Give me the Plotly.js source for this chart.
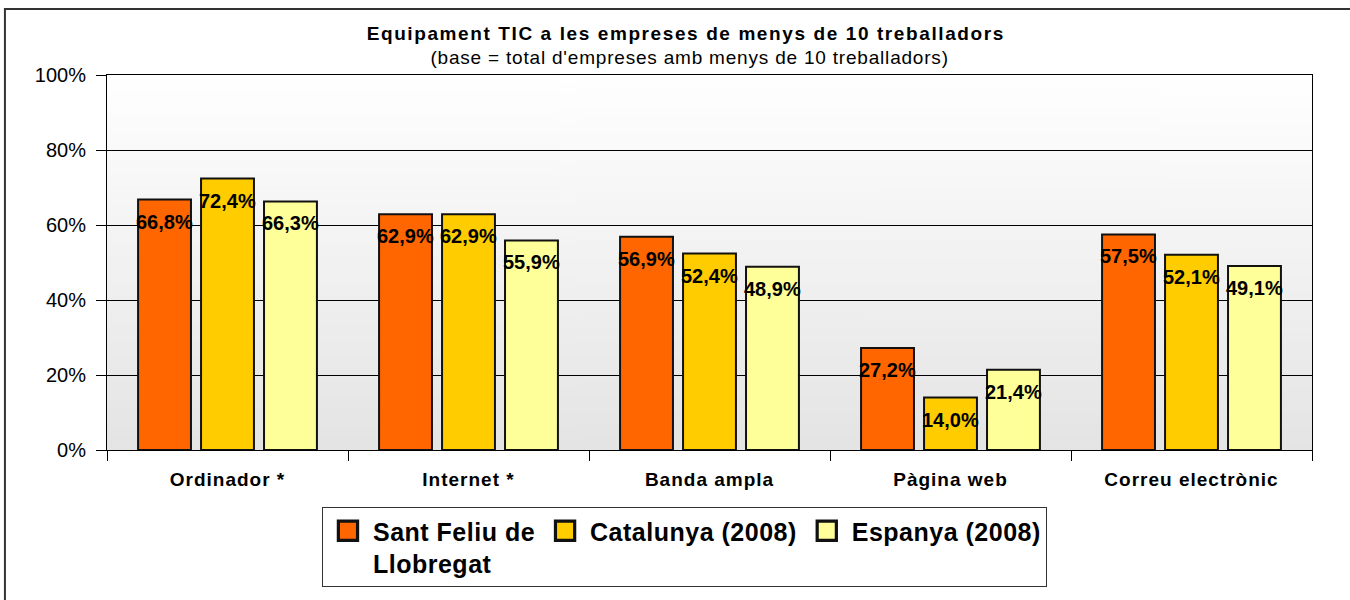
<!DOCTYPE html>
<html>
<head>
<meta charset="utf-8">
<script src="https://cdn.plot.ly/plotly-3.0.1.min.js"></script>
<style>
  html, body { margin: 0; padding: 0; background: #fff; }
  #chart { width: 1350px; height: 600px; }
  .xtick text { letter-spacing: 1px; }
  .gtitle { letter-spacing: 1.6px; }
  .annotation[data-index="15"] text { letter-spacing: 0.8px; }
  .legendtext { letter-spacing: 0.5px; }
  .legendpoints { transform-box: fill-box; transform-origin: center; transform: scale(1.6); }
</style>
</head>
<body>
<div id="chart"></div>
<script>
const categories = ['Ordinador *', 'Internet *', 'Banda ampla', 'Pàgina web', 'Correu electrònic'];
const seriesNames = ['Sant Feliu de<br>Llobregat', 'Catalunya (2008)', 'Espanya (2008)'];
const santFeliu = [66.8, 62.9, 56.9, 27.2, 57.5];
const catalunya = [72.4, 62.9, 52.4, 14.0, 52.1];
const espanya = [66.3, 55.9, 48.9, 21.4, 49.1];
const seriesColors = ['#FF6600', '#FFCC00', '#FFFF99'];
const yTickVals = [0, 20, 40, 60, 80, 100];
const titleText = 'Equipament TIC a les empreses de menys de 10 treballadors';
const subtitleText = "(base = total d'empreses amb menys de 10 treballadors)";

const seriesValues = [santFeliu, catalunya, espanya];
const BARGAP = 0.216;
const BARGROUPGAP = 0.16;
const FONT = 'Liberation Sans, Arial, sans-serif';

function fmt(v) { return v.toFixed(1).replace('.', ',') + '%'; }

const traces = seriesValues.map((vals, k) => ({
  type: 'bar',
  name: seriesNames[k],
  x: categories,
  y: vals,
  marker: { color: seriesColors[k], line: { color: '#111111', width: 2 } },
  hoverinfo: 'x+y'
}));

// data labels, placed through the category axis scale
const slot = (1 - BARGAP) / seriesValues.length;
const annotations = [];
seriesValues.forEach((vals, k) => {
  vals.forEach((v, i) => {
    annotations.push({
      xref: 'x', yref: 'y',
      x: i + (k - (seriesValues.length - 1) / 2) * slot,
      y: v,
      yshift: -22,
      yanchor: 'middle',
      xanchor: 'center',
      showarrow: false,
      text: fmt(v),
      font: { family: FONT, size: 20, color: '#000', weight: 'bold' }
    });
  });
});
annotations.push({
  xref: 'paper', yref: 'paper',
  x: 0.4838, y: 1.047,
  xanchor: 'center', yanchor: 'middle',
  showarrow: false,
  text: subtitleText,
  font: { family: FONT, size: 19, color: '#000' }
});

// gradient background image
const cv = document.createElement('canvas');
cv.width = 4; cv.height = 256;
const ctx = cv.getContext('2d');
const g = ctx.createLinearGradient(0, 0, 0, 256);
g.addColorStop(0, '#ffffff');
g.addColorStop(1, '#e4e4e4');
ctx.fillStyle = g;
ctx.fillRect(0, 0, 4, 256);
const bgURL = cv.toDataURL('image/png');

const layout = {
  width: 1350,
  height: 600,
  margin: { l: 107, r: 38, t: 75, b: 150, autoexpand: false },
  paper_bgcolor: '#ffffff',
  plot_bgcolor: 'rgba(0,0,0,0)',
  font: { family: FONT, color: '#000' },
  separators: ',.',
  barmode: 'group',
  bargap: BARGAP,
  bargroupgap: BARGROUPGAP,
  title: {
    text: titleText,
    font: { family: FONT, size: 19, color: '#000', weight: 'bold' },
    xref: 'container', x: 0.508, xanchor: 'center',
    yref: 'container', y: 0.944, yanchor: 'middle'
  },
  xaxis: {
    type: 'category',
    showline: true, linecolor: '#000', linewidth: 1, mirror: true,
    ticks: 'outside', tickson: 'boundaries', ticklen: 10, tickcolor: '#000', tickwidth: 1,
    tickfont: { family: FONT, size: 19, color: '#000', weight: 'bold' },
    ticklabelstandoff: 12,
    showgrid: false,
    fixedrange: true
  },
  yaxis: {
    range: [0, 100],
    tickvals: yTickVals,
    ticktext: yTickVals.map(v => v + '%'),
    showline: true, linecolor: '#000', linewidth: 1, mirror: true,
    ticks: 'outside', ticklen: 10, tickcolor: '#000', tickwidth: 1,
    tickfont: { family: FONT, size: 20, color: '#000' },
    ticklabelstandoff: 6,
    showgrid: true, gridcolor: '#000', gridwidth: 1,
    zeroline: false,
    fixedrange: true
  },
  showlegend: true,
  legend: {
    orientation: 'h',
    x: 0.1784, xanchor: 'left',
    y: -0.152, yanchor: 'top',
    bgcolor: '#ffffff',
    bordercolor: '#333333', borderwidth: 1,
    font: { family: FONT, size: 25, color: '#000', weight: 'bold' },
    valign: 'top',
    itemwidth: 40,
    traceorder: 'normal'
  },
  images: [{
    source: bgURL,
    xref: 'paper', yref: 'paper',
    x: 0, y: 1, sizex: 1, sizey: 1,
    xanchor: 'left', yanchor: 'top',
    sizing: 'stretch', layer: 'below'
  }],
  shapes: [{
    type: 'rect', xref: 'paper', yref: 'paper',
    x0: -0.0847, x1: 1.05, y0: -0.42, y1: 1.176,
    line: { color: '#333333', width: 2 },
    fillcolor: 'rgba(0,0,0,0)'
  }],
  annotations: annotations
};

Plotly.newPlot('chart', traces, layout, { displayModeBar: false, staticPlot: true });
</script>
</body>
</html>
